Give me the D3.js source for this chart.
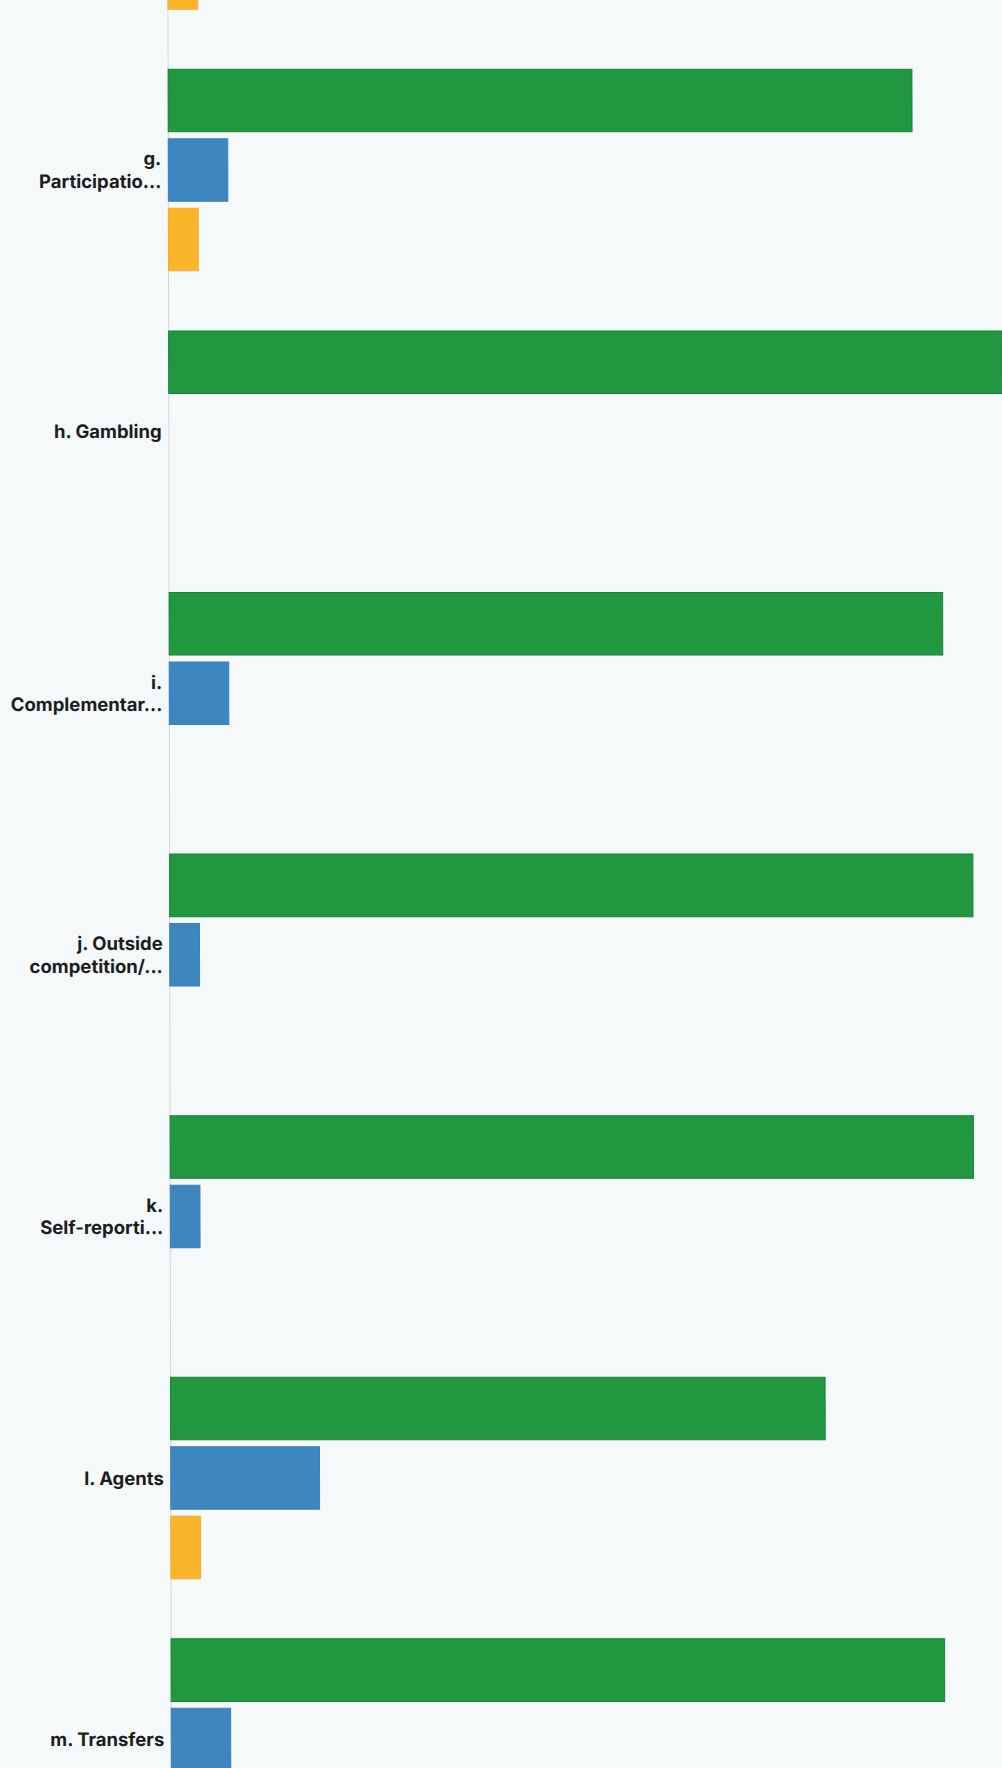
<!DOCTYPE html>
<html>
<head>
<meta charset="utf-8">
<script src="https://cdn.jsdelivr.net/npm/d3@7"></script>
<style>
  html, body { margin: 0; padding: 0; background: #f6f9fa; overflow: hidden; }
  svg { display: block; }
</style>
</head>
<body>
<div id="chart"></div>
<script>
// ---- data (28 responses per row) ----
const categories = ["f", "g", "h", "i", "j", "k", "l", "m"];
const labelLines = [
  [],
  ["g.", "Participatio..."],
  ["h. Gambling"],
  ["i.", "Complementar..."],
  ["j. Outside", "competition/..."],
  ["k.", "Self-reporti..."],
  ["l. Agents"],
  ["m. Transfers"]
];
const seriesKeys = ["green", "blue", "orange"];
const greenValues  = [89.29, 89.29, 100.00, 92.86, 96.43, 96.43, 78.57, 92.86];
const blueValues   = [ 7.14,  7.14,   0.00,  7.14,  3.57,  3.57, 17.86,  7.14];
const orangeValues = [ 3.57,  3.57,   0.00,  0.00,  0.00,  0.00,  3.57,  0.00];
const xDomain = [0, 100];

// ---- build table ----
const table = categories.map((c, i) => ({
  cat: c,
  lines: labelLines[i],
  green: greenValues[i],
  blue: blueValues[i],
  orange: orangeValues[i]
}));

const W = 1002, H = 1768;
const colors = { green: "#21983f", blue: "#3e86c0", orange: "#fbb52b" };
const strokes = { green: "#17803a", blue: "#3a80b8", orange: "#f5ad25" };

const svg = d3.select("#chart").append("svg")
  .attr("width", W).attr("height", H);

// slight shear to mimic the scanned page
const g = svg.append("g").attr("transform", "skewX(0.107)");

const x = d3.scaleLinear().domain(xDomain).range([168, 1001]);

const y = d3.scaleBand()
  .domain(categories)
  .range([-192.3, 1840.4])
  .paddingInner(0.2296)
  .paddingOuter(0);

const ySub = d3.scaleBand()
  .domain(seriesKeys)
  .range([0, y.bandwidth()])
  .paddingInner(0.1)
  .paddingOuter(0);

// axis (baseline) line
const yAxis = d3.axisLeft(y).tickSize(0).tickFormat("");
g.append("g")
  .attr("transform", `translate(${x(0)},0)`)
  .call(yAxis)
  .call(s => s.select(".domain").attr("stroke", "#d4d6d8").attr("stroke-width", 1).attr("d", `M0,0V${H}`));

// bars
const groups = g.selectAll("g.cat")
  .data(table)
  .join("g")
  .attr("class", "cat")
  .attr("transform", d => `translate(0,${y(d.cat)})`);

groups.selectAll("rect")
  .data(d => seriesKeys.map(k => ({ key: k, value: d[k] })).filter(e => e.value > 0))
  .join("rect")
  .attr("x", x(0))
  .attr("y", e => ySub(e.key))
  .attr("width", e => x(e.value) - x(0))
  .attr("height", ySub.bandwidth())
  .attr("fill", e => colors[e.key])
  .attr("stroke", e => strokes[e.key])
  .attr("stroke-width", 1);

// category labels
const lineH = 22.5;
groups.filter(d => d.lines.length > 0).each(function(d) {
  const cy = y.bandwidth() / 2;
  const n = d.lines.length;
  const t = d3.select(this).append("text")
    .attr("text-anchor", "end")
    .attr("font-family", "Inter, 'Noto Sans', sans-serif")
    .attr("font-weight", 700)
    .attr("font-size", 18.5)
    .attr("fill", "#1b1d1f");
  d.lines.forEach((ln, i) => {
    t.append("tspan")
      .attr("x", 161)
      .attr("y", cy + (i - (n - 1) / 2) * lineH + 6.5)
      .text(ln);
  });
});
</script>
</body>
</html>
